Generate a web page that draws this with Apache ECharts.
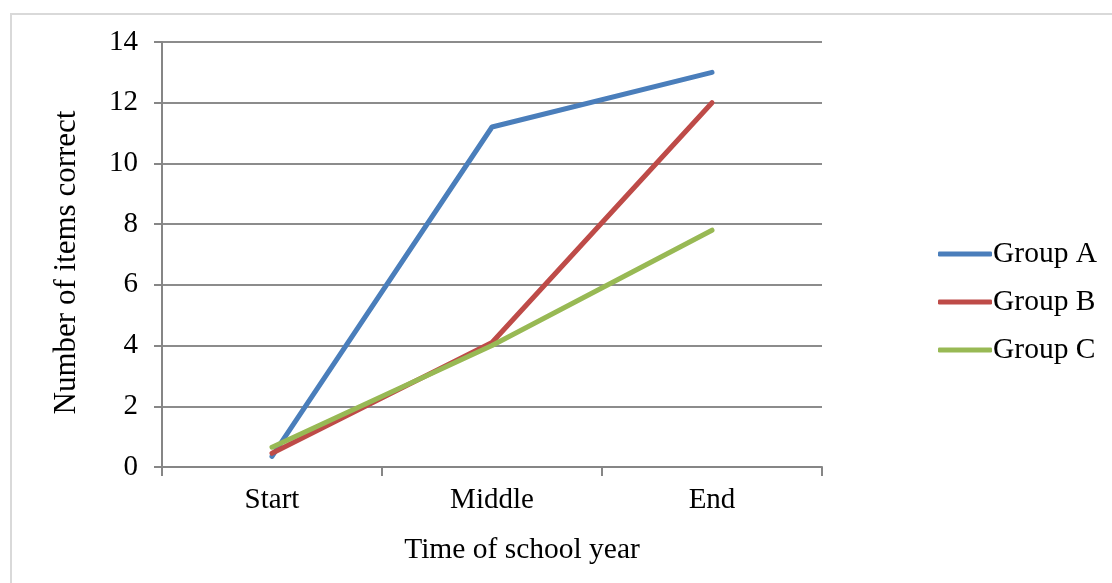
<!DOCTYPE html>
<html>
<head>
<meta charset="utf-8">
<script src="https://cdn.jsdelivr.net/npm/echarts@6/dist/echarts.min.js"></script>
<style>
  html, body { margin: 0; padding: 0; background: #ffffff; }
  #frame { position: absolute; left: 10px; top: 13px; right: -2px; bottom: -2px;
           border: 2px solid #d9d9d9; box-sizing: border-box; }
  #chart { width: 1112px; height: 583px; position: absolute; left: 0; top: 0; }
</style>
</head>
<body>
<div id="frame"></div>
<div id="chart"></div>
<script>
// Time points across the school year
const categories = ['Start', 'Middle', 'End'];
// Number of items answered correctly, per group
const groupA = [0.35, 11.2, 13.0];
const groupB = [0.45, 4.1, 12.0];
const groupC = [0.65, 4.0, 7.8];
const seriesNames = ['Group A', 'Group B', 'Group C'];
const seriesColors = ['#4a7ebb', '#be4b48', '#98b954'];

const font = '"Liberation Serif", "Times New Roman", serif';
const chart = echarts.init(document.getElementById('chart'), null, { renderer: 'canvas' });

const mkSeries = (name, data, color) => ({
  name, type: 'line', data,
  symbol: 'none',
  lineStyle: { color, width: 5, cap: 'round', join: 'round' },
  itemStyle: { color },
  emphasis: { disabled: true },
  animation: false
});

chart.setOption({
  backgroundColor: 'transparent',
  animation: false,
  grid: { left: 162, top: 42, right: 290, bottom: 116, containLabel: false },
  xAxis: {
    type: 'category',
    data: categories,
    boundaryGap: true,
    name: 'Time of school year',
    nameLocation: 'middle',
    nameGap: 68,
    nameTextStyle: { fontFamily: font, fontSize: 29.5, color: '#000', padding: [0, 0, 0, 60] },
    axisLine: { lineStyle: { color: '#868686', width: 2 } },
    axisTick: { show: true, length: 9, interval: 0, lineStyle: { color: '#868686', width: 2 } },
    axisLabel: { fontFamily: font, fontSize: 29, color: '#000', margin: 19 }
  },
  yAxis: {
    type: 'value',
    min: 0, max: 14, interval: 2,
    name: 'Number of items correct',
    nameLocation: 'middle',
    nameGap: 80,
    nameRotate: 90,
    nameTextStyle: { fontFamily: font, fontSize: 31, color: '#000', padding: [0, 16, 0, 0] },
    axisLine: { show: true, lineStyle: { color: '#868686', width: 2 } },
    axisTick: { show: true, length: 8, lineStyle: { color: '#868686', width: 2 } },
    axisLabel: { fontFamily: font, fontSize: 29, color: '#000', margin: 24 },
    splitLine: { lineStyle: { color: '#8c8c8c', width: 2 } }
  },
  legend: {
    orient: 'vertical',
    left: 933,
    top: 234,
    itemWidth: 54,
    itemHeight: 5,
    itemGap: 18,
    icon: 'roundRect',
    textStyle: { fontFamily: font, fontSize: 29.5, color: '#000', padding: [0, 0, 0, -4] },
    selectedMode: false,
    data: seriesNames
  },
  series: [
    mkSeries(seriesNames[0], groupA, seriesColors[0]),
    mkSeries(seriesNames[1], groupB, seriesColors[1]),
    mkSeries(seriesNames[2], groupC, seriesColors[2])
  ]
});
</script>
</body>
</html>
